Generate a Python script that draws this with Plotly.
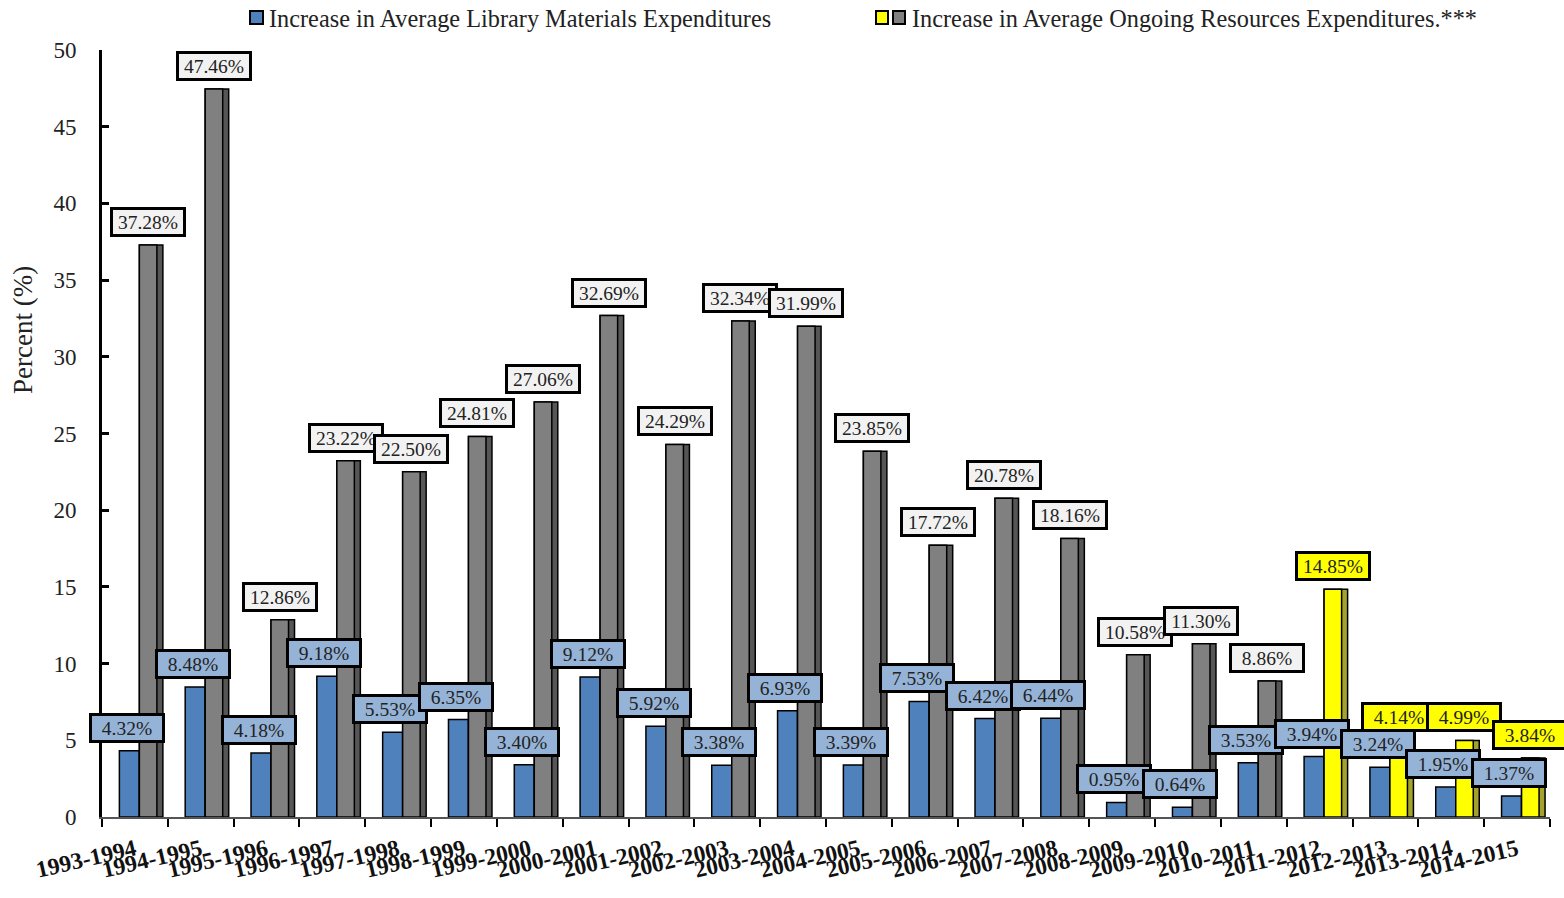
import plotly.graph_objects as go

# Fiscal-year periods
periods = [
    "1993-1994", "1994-1995", "1995-1996", "1996-1997", "1997-1998", "1998-1999",
    "1999-2000", "2000-2001", "2001-2002", "2002-2003", "2003-2004", "2004-2005",
    "2005-2006", "2006-2007", "2007-2008", "2008-2009", "2009-2010", "2010-2011",
    "2011-2012", "2012-2013", "2013-2014", "2014-2015",
]

# Percent increase in average library materials expenditures
library_materials = [
    4.32, 8.48, 4.18, 9.18, 5.53, 6.35, 3.40, 9.12, 5.92, 3.38, 6.93,
    3.39, 7.53, 6.42, 6.44, 0.95, 0.64, 3.53, 3.94, 3.24, 1.95, 1.37,
]

# Percent increase in average ongoing resources expenditures
ongoing_resources = [
    37.28, 47.46, 12.86, 23.22, 22.50, 24.81, 27.06, 32.69, 24.29, 32.34, 31.99,
    23.85, 17.72, 20.78, 18.16, 10.58, 11.30, 8.86, 14.85, 4.14, 4.99, 3.84,
]

# Ongoing-resources bars are highlighted in yellow from this period on
highlight_from = "2011-2012"

y_ticks = [0, 5, 10, 15, 20, 25, 30, 35, 40, 45, 50]

legend_library = "Increase in Average Library Materials Expenditures"
legend_ongoing = "Increase in Average Ongoing Resources Expenditures.***"
y_title = "Percent (%)"

# ---- styling -------------------------------------------------------------
FONT = "Liberation Serif"
BLUE = "#4f81bd"
BLUE_LABEL = "#95b3d7"
GRAY = "#808080"
GRAY_SIDE = "#565656"
GRAY_LABEL = "#f2f2f2"
YELLOW = "#ffff00"
YELLOW_SIDE = "#a3a32e"

W, H = 1564, 898
M_L, M_R, M_T, M_B = 102, 14, 50, 81

start = periods.index(highlight_from)
is_new = [i >= start for i in range(len(periods))]
face_colors = [YELLOW if n else GRAY for n in is_new]
side_colors = [YELLOW_SIDE if n else GRAY_SIDE for n in is_new]
label_fills = [YELLOW if n else GRAY_LABEL for n in is_new]

fig = go.Figure()

# library materials bars
fig.add_trace(go.Bar(
    x=periods, y=library_materials, offset=-0.236, width=0.304,
    marker=dict(color=BLUE, line=dict(color="black", width=1.5)),
    showlegend=False, hoverinfo="x+y",
))
# ongoing resources: darker side face behind the main face
fig.add_trace(go.Bar(
    x=periods, y=ongoing_resources, offset=0.068, width=0.357,
    marker=dict(color=side_colors, line=dict(color="black", width=1.5)),
    showlegend=False, hoverinfo="skip",
))
fig.add_trace(go.Bar(
    x=periods, y=ongoing_resources, offset=0.068, width=0.266,
    marker=dict(color=face_colors, line=dict(color="black", width=1.5)),
    showlegend=False, hoverinfo="x+y",
))

# value labels in bordered boxes (x given as category index)
annotations = []
label_style = dict(
    showarrow=False, yanchor="bottom", yshift=8,
    font=dict(family=FONT, size=19.5, color="#222222"),
    bordercolor="black", borderwidth=3, borderpad=1, width=68, height=22,
)
for i, v in enumerate(library_materials):
    annotations.append(dict(x=i - 0.12, y=v, text=f"{v:.2f}%",
                            bgcolor=BLUE_LABEL, **label_style))
extra_lift = {"2012-2013": 13}
for i, v in enumerate(ongoing_resources):
    style = dict(label_style)
    style["yshift"] = 8 + extra_lift.get(periods[i], 0)
    annotations.append(dict(x=i + 0.2, y=v, text=f"{v:.2f}%",
                            bgcolor=label_fills[i], **style))

# pixel -> paper helpers for the legend and axis title
pw, ph = W - M_L - M_R, H - M_T - M_B


def px_x(px):
    return (px - M_L) / pw


def px_y(py):
    return (H - M_B - py) / ph


shapes = []
for (x0, x1, col) in [(250, 263, BLUE), (876, 888, YELLOW), (893, 905, GRAY)]:
    shapes.append(dict(type="rect", xref="paper", yref="paper",
                       x0=px_x(x0), x1=px_x(x1), y0=px_y(24), y1=px_y(11),
                       fillcolor=col, line=dict(color="black", width=2)))
for (x0, txt) in [(267, legend_library), (910, legend_ongoing)]:
    annotations.append(dict(xref="paper", yref="paper", x=px_x(x0), y=px_y(18),
                            xanchor="left", yanchor="middle", showarrow=False,
                            text=txt, font=dict(family=FONT, size=24.3, color="#222222")))

annotations.append(dict(xref="paper", yref="paper", x=px_x(23), y=px_y(330),
                        xanchor="center", yanchor="middle", showarrow=False,
                        textangle=-90, text=y_title,
                        font=dict(family=FONT, size=27, color="#222222")))

fig.update_layout(
    width=W, height=H,
    margin=dict(l=M_L, r=M_R, t=M_T, b=M_B, pad=0),
    paper_bgcolor="white", plot_bgcolor="white",
    barmode="overlay",
    annotations=annotations, shapes=shapes,
    showlegend=False,
)
fig.update_xaxes(
    type="category",
    categoryorder="array", categoryarray=periods,
    range=[-0.5, len(periods) - 0.5],
    tickangle=-13,
    tickson="boundaries",
    tickfont=dict(family=FONT, size=23.5, color="#111111", weight="bold"),
    ticklabelstandoff=8,
    showline=True, linecolor="#555555", linewidth=2,
    ticks="outside", ticklen=8, tickwidth=2, tickcolor="black",
    showgrid=False, zeroline=False,
)
fig.update_yaxes(
    range=[0, 50], tickvals=y_ticks,
    tickfont=dict(family=FONT, size=23, color="#222222"),
    ticks="inside", ticklen=7, tickwidth=3, tickcolor="black",
    ticklabelstandoff=18,
    showline=True, linecolor="black", linewidth=3,
    showgrid=False, zeroline=False,
)

fig.write_html("out.html")
